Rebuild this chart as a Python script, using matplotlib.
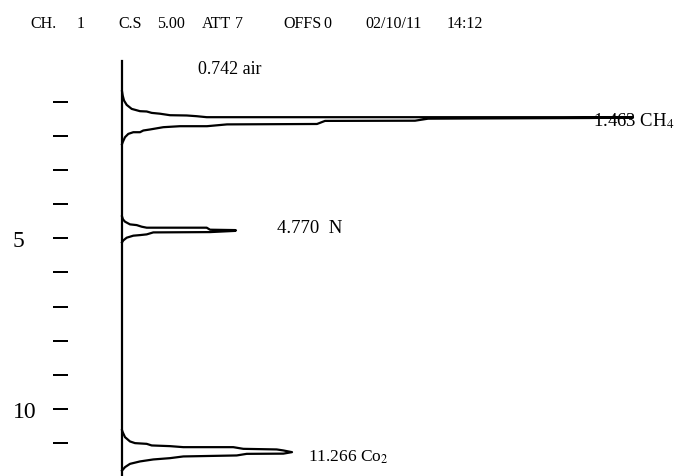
import matplotlib
matplotlib.use("Agg")
import matplotlib.pyplot as plt
import numpy as np

plt.rcParams["font.family"] = ["Liberation Serif", "DejaVu Serif"]
plt.rcParams["mathtext.fontset"] = "stix"

# Run header
header_items = ["CH.", "1", "C.S", "5.00", "ATT", "7", "OFFS", "0", "02/10/11", "14:12"]
header_x_px = [30, 77, 118, 157, 202, 235, 283, 323, 365, 447]

# Time axis (minutes)
minute_ticks = list(range(1, 13))
minute_labels = ["" if m not in (5, 10) else str(m) for m in minute_ticks]

# Peak retention times and names
peak_times = [1.463, 4.770, 11.266]
peak_names = ["1.463 CH$_4$", "4.770  N", "11.266 Co$_2$"]
air_time = 0.742

# Detector trace around each peak: signal (out and back) and time offset from apex (min)
ch4_signal = [0, 0.14, 0.4, 0.94, 1.94, 3.6, 4.94, 5.94, 7.6, 9.6, 12.94, 14.94, 16.94,
              93.6, 102.2,
              93.6, 83.6, 69.6, 61.2, 58.6, 40.6, 39.0, 21.0, 17.0, 11.6, 8.26, 5.6,
              4.26, 3.6, 2.26, 1.26, 0.6, 0.14, 0]
ch4_dt = [-0.770, -0.644, -0.498, -0.369, -0.252, -0.185, -0.176, -0.135, -0.111, -0.067,
          -0.059, -0.038, -0.009, -0.009, 0.0,
          0.015, 0.021, 0.029, 0.035, 0.094, 0.100, 0.190, 0.202, 0.255, 0.255, 0.284,
          0.351, 0.381, 0.431, 0.431, 0.480, 0.577, 0.724, 0.782]

n_signal = [0, 0.2, 0.6, 1.6, 2.94, 3.94, 4.94, 16.94, 17.6, 22.6, 22.8,
            22.6, 17.6, 6.26, 4.94, 3.6, 2.26, 0.94, 0.26, 0]
n_dt = [-0.410, -0.322, -0.255, -0.176, -0.155, -0.108, -0.079, -0.079, -0.020, -0.009, 0.0,
        0.015, 0.050, 0.059, 0.117, 0.138, 0.155, 0.214, 0.293, 0.351]

co2_signal = [0, 0.14, 0.6, 1.6, 2.6, 4.94, 5.94, 9.6, 12.26, 22.26, 24.26, 30.94, 32.26, 34.0,
              32.26, 24.94, 22.94, 12.26, 9.6, 6.26, 3.6, 1.6, 0.6, 0]
co2_dt = [-0.644, -0.586, -0.439, -0.313, -0.264, -0.243, -0.196, -0.176, -0.146, -0.146,
          -0.097, -0.079, -0.050, 0.0,
          0.044, 0.050, 0.097, 0.126, 0.176, 0.214, 0.272, 0.343, 0.439, 0.542]

traces = [(ch4_signal, ch4_dt), (n_signal, n_dt), (co2_signal, co2_dt)]

# Label anchors (signal, time at text baseline)
label_pos = [(94.2, 1.68), (31.0, 4.826), (37.2, 11.52)]
label_size = [13.5, 13.5, 12.5]
air_label_pos = (15.2, 0.168)

W, H = 684, 477
fig = plt.figure(figsize=(W / 100, H / 100), dpi=100)
px = 72 / 100  # points per pixel
ax_left, ax_right, ax_top, ax_bottom = 122, 684, 62, 478.2
ax = fig.add_axes([ax_left / W, (H - ax_bottom) / H,
                   (ax_right - ax_left) / W, (ax_bottom - ax_top) / H])
ax.set_xlim(0, 112.4)
ax.set_ylim(12.0, -0.192)

for s in ("top", "right", "bottom", "left"):
    ax.spines[s].set_visible(False)
# minute scale sits apart from the recorder baseline
ax.spines["left"].set_position(("outward", 54 * px))
ax.set_xticks([])
ax.set_yticks(minute_ticks)
ax.set_yticklabels(minute_labels)
ax.tick_params(axis="y", direction="out", length=15 * px, width=2 * px, pad=40 * px,
               labelsize=17, colors="black")
for lab in ax.get_yticklabels():
    lab.set_horizontalalignment("left")

# Baseline of the recorder
ax.axvline(0, color="black", lw=1.6, clip_on=False)

for (sig, dt), rt in zip(traces, peak_times):
    ax.plot(sig, np.asarray(dt) + rt, color="black", lw=1.6, clip_on=False,
            solid_joinstyle="round")

for (x, y), name, fs in zip(label_pos, peak_names, label_size):
    ax.text(x, y, name, fontsize=fs, va="baseline", ha="left", clip_on=False)
ax.text(air_label_pos[0], air_label_pos[1], f"{air_time:.3f} air", fontsize=13,
        va="baseline", ha="left")

for txt, xp in zip(header_items, header_x_px):
    fig.text(xp / W, 1 - 28.3 / H, txt, fontsize=11.5, va="baseline", ha="left")

fig.savefig("out.png", dpi=100)
